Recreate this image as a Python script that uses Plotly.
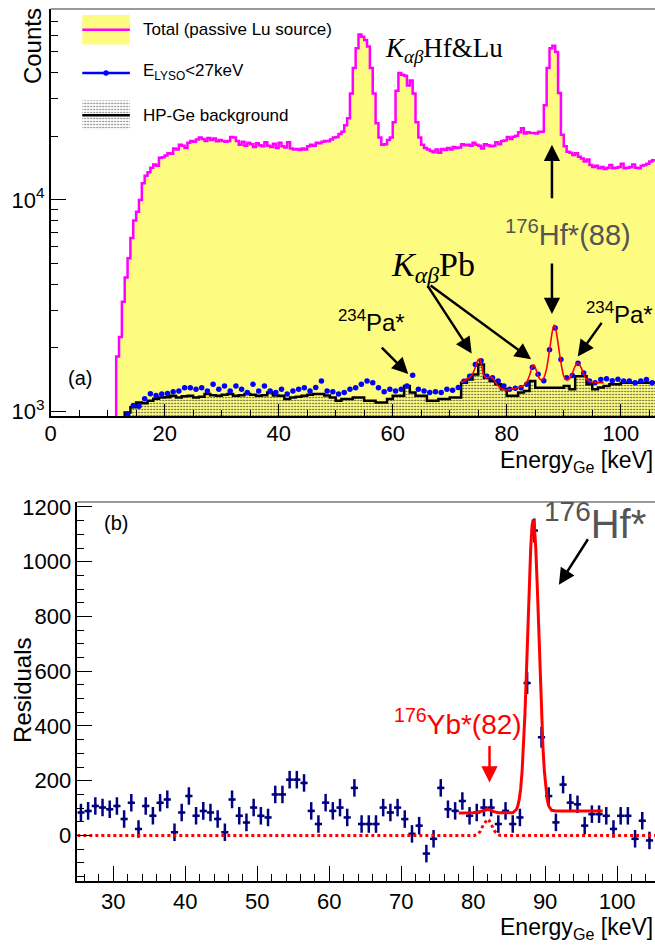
import numpy as np
import plotly.graph_objects as go

W, H = 655, 949
SANS = "Liberation Sans, Arial, sans-serif"
SERIF = "Liberation Serif, Times New Roman, serif"

# ---------------- panel (a): HP-Ge spectra ----------------
TOTAL_START, TOTAL_BIN = 11.5, 0.5          # keV
total_counts = [
    1820, 2250, 3300, 4300, 5300, 6600, 8000, 8800, 10000, 12000,
    13000, 13500, 14200, 14700, 14500, 15800, 15900, 16200, 16600, 16500,
    17500, 17300, 18200, 18000, 17600, 18600, 19000, 18800, 19300, 19700,
    19400, 19000, 19600, 19200, 19500, 18900, 19200, 19000, 18800, 19000,
    19800, 19700, 19000, 18200, 18800, 18000, 18600, 18300, 17800, 18500,
    18100, 17900, 18700, 18000, 17800, 18400, 17600, 18600, 17900, 17700,
    18700, 17500, 17300, 17400, 17200, 17500, 17300, 17900, 18200, 18000,
    18600, 18500, 18800, 19000, 18900, 19300, 19700, 19800, 20500, 21000,
    22500, 24300, 31800, 42000, 52000, 60400, 59000, 57000, 53000, 42000,
    31800, 23000, 19700, 18200, 18300, 19200, 19700, 23300, 32800, 39800,
    39000, 38600, 34700, 36600, 31800, 23300, 19700, 18200, 17600, 17300,
    17000, 16800, 17300, 16700, 17400, 17200, 17600, 17300, 17800, 17600,
    17700, 18300, 18100, 18200, 18000, 18600, 18200, 18000, 17500, 18300,
    18100, 17900, 18000, 18700, 18300, 19000, 19100, 19800, 19400, 19900,
    20100, 20900, 21800, 20600, 20900, 20700, 20700, 20600, 21000, 21000,
    28000, 42000, 52000, 53500, 50000, 32000, 20300, 17900, 16900, 16700,
    16300, 16600, 16000, 15700, 15200, 15500, 14600, 14300, 14500, 14100,
    14300, 14000, 14200, 14600, 14100, 14200, 14300, 14800, 14100, 14200,
    14300, 14700, 14200, 14100, 14500, 14600, 14800, 15200, 15400,
]

LYSO_START, LYSO_BIN = 13.0, 1.0
lyso_counts = [
    970, 1067, 1060, 1150, 1213, 1190, 1210, 1216, 1240, 1250,
    1297, 1295, 1275, 1297, 1252, 1345, 1275, 1321, 1252, 1321,
    1275, 1230, 1345, 1252, 1321, 1252, 1230, 1275, 1209, 1252,
    1275, 1297, 1252, 1300, 1393, 1252, 1240, 1209, 1230, 1275,
    1297, 1345, 1393, 1369, 1297, 1240, 1275, 1252, 1275, 1321,
    1486, 1275, 1252, 1230, 1240, 1230, 1275, 1260, 1300, 1390,
    1470, 1667, 1740, 1470, 1444, 1393, 1321, 1275, 1290, 1297,
    1345, 1620, 1500, 1400, 1960, 2480, 1760, 1444, 1480, 1690,
    1520, 1393, 1369, 1419, 1430, 1400, 1420, 1393, 1393, 1369,
    1393, 1419, 1369,
]

BKG_START, BKG_BIN = 13.0, 1.0
bkg_counts = [
    990, 1047, 1105, 1095, 1125, 1150, 1166, 1170, 1187, 1166,
    1180, 1187, 1166, 1175, 1209, 1195, 1187, 1200, 1209, 1187,
    1195, 1209, 1200, 1187, 1195, 1230, 1190, 1187, 1146, 1166,
    1175, 1187, 1200, 1209, 1209, 1190, 1166, 1125, 1146, 1146,
    1166, 1166, 1125, 1125, 1105, 1105, 1146, 1187, 1187, 1321,
    1230, 1187, 1187, 1125, 1125, 1146, 1146, 1166, 1166, 1369,
    1419, 1497, 1667, 1444, 1393, 1345, 1275, 1187, 1187, 1230,
    1250, 1393, 1297, 1297, 1297, 1297, 1297, 1321, 1275, 1470,
    1470, 1345, 1275, 1300, 1321, 1345, 1345, 1369, 1369, 1369,
    1369, 1369, 1369,
]

# fitted model over the E_LYSO<27keV spectrum
fit_a_energy = [72.0, 72.5, 73.0, 73.5, 74.0, 74.5, 75.0, 75.3, 75.6, 76.0,
                76.5, 77.0, 77.5, 78.0, 78.5, 79.0, 79.5, 80.0, 80.5, 81.0,
                81.5, 82.0, 82.5, 83.0, 83.5, 84.0, 84.5, 84.8, 85.2, 85.6,
                86.0, 86.5, 87.0, 87.5, 88.0, 88.3, 88.6, 89.0, 89.5, 90.0,
                90.5, 91.0, 91.5, 92.0, 92.5, 93.0, 93.5, 94.0, 94.5, 95.0,
                95.5, 96.0, 96.5, 97.0]
fit_a_counts = [1369, 1390, 1420, 1450, 1500, 1620, 1760, 1770, 1640, 1480,
                1440, 1460, 1440, 1380, 1320, 1285, 1270, 1265, 1270, 1275,
                1285, 1295, 1310, 1330, 1380, 1480, 1640, 1660, 1560, 1450,
                1410, 1440, 1600, 1950, 2400, 2560, 2450, 2100, 1700, 1470,
                1410, 1430, 1520, 1640, 1700, 1620, 1500, 1420, 1390, 1380,
                1375, 1370, 1368, 1366]

# ---------------- panel (b): residuals ----------------
RES_START, RES_BIN = 25.0, 1.0
res_values = [
    84, 90, 108, 102, 96, 108, 60, 120, 24, 108,
    72, 120, 132, 12, 84, 144, 72, 90, 84, 60,
    12, 132, 72, 48, 102, 72, 66, 150, 150, 204,
    204, 192, 90, 42, 120, 90, 102, 66, 174, 42,
    42, 42, 102, 84, 102, 60, 6, 36, -66, -12,
    174, 96, 90, 126, 72, 84, 102, 102, 42, 90,
    42, 66, 557, 1114, 359, 144, 48, 186, 120, 114,
    36, 78, 78, 72, 24, 72, 72, -12, 54, -18,
]
res_errors = [32] * 62 + [40, 44, 38] + [32] * 15

fit_b_energy = [78.0, 79.0, 80.0, 80.6, 81.2, 81.7, 82.0, 82.4, 82.9, 83.5,
                84.5, 85.5, 86.0, 86.2, 86.4, 86.6, 86.8, 87.0, 87.2, 87.4,
                87.6, 87.8, 88.0, 88.2, 88.35, 88.5, 88.7, 88.9, 89.1, 89.3,
                89.5, 89.7, 89.9, 90.1, 90.3, 90.5, 90.7, 90.9, 91.5, 93.0,
                95.0, 98.0]
fit_b_values = [82, 82, 83, 85, 89, 94, 95, 93, 87, 83,
                82, 83, 95, 108, 131, 170, 233, 323, 445, 593,
                758, 918, 1051, 1134, 1154, 1134, 1051, 918, 758, 593,
                445, 323, 233, 170, 131, 108, 97, 92, 90, 90,
                90, 90]

yb_energy = [25.0, 80.2, 80.6, 81.0, 81.4, 81.8, 82.0, 82.2, 82.6, 83.0, 83.4, 83.8, 105.3]
yb_values = [0, 0, 4, 16, 38, 56, 60, 56, 38, 16, 4, 0, 0]

# ---------------- colours ----------------
YELLOW = "#fdfb80"
MAGENTA = "#ff00ff"
BLUE = "#0000ff"
NAVY = "#000080"
RED = "#ff0000"
GREY_TXT = "#555555"


def step_xy(start, width, counts, floor=1.0):
    """Histogram outline for line_shape='hv', starting from below the axis."""
    counts = np.asarray(counts, dtype=float)
    edges = start + width * np.arange(len(counts) + 1)
    x = np.concatenate([[edges[0]], edges])
    y = np.concatenate([[floor], counts, [counts[-1]]])
    return x, y


def centres(start, width, n):
    return start + width * (np.arange(n) + 0.5)


STIPPLE = dict(shape=".", size=3, solidity=0.22, fgcolor="#3a3a3a", fillmode="replace")

fig = go.Figure()

# total spectrum: yellow fill with magenta outline
tx, ty = step_xy(TOTAL_START, TOTAL_BIN, total_counts)
fig.add_trace(go.Scatter(x=tx, y=ty, mode="lines", line=dict(color=MAGENTA, width=2.5, shape="hv"),
                         fill="tozeroy", fillcolor=YELLOW, xaxis="x", yaxis="y"))

# HP-Ge background: stippled fill, black outline
bx, by = step_xy(BKG_START, BKG_BIN, bkg_counts)
fig.add_trace(go.Scatter(x=bx, y=by, mode="lines", line=dict(color="black", width=2.5, shape="hv"),
                         fill="tozeroy", fillcolor=YELLOW,
                         fillpattern=dict(STIPPLE, bgcolor=YELLOW),
                         xaxis="x", yaxis="y"))

# E_LYSO < 27 keV selection
fig.add_trace(go.Scatter(x=centres(LYSO_START, LYSO_BIN, len(lyso_counts)), y=lyso_counts, mode="markers",
                         marker=dict(color=BLUE, size=5.5), xaxis="x", yaxis="y"))

# fit
fig.add_trace(go.Scatter(x=fit_a_energy, y=fit_a_counts, mode="lines",
                         line=dict(color=RED, width=1.6, shape="spline", smoothing=0.6), xaxis="x", yaxis="y"))

# residuals with error bars
rx = centres(RES_START, RES_BIN, len(res_values))
fig.add_trace(go.Scatter(x=rx, y=res_values, mode="markers",
                         marker=dict(color=NAVY, size=3, symbol="square"),
                         error_y=dict(type="data", array=res_errors, color=NAVY, thickness=2.5, width=0),
                         error_x=dict(type="constant", value=RES_BIN / 2, color=NAVY, thickness=2.5, width=0),
                         xaxis="x2", yaxis="y2"))
fig.add_trace(go.Scatter(x=yb_energy, y=yb_values, mode="lines",
                         line=dict(color=RED, width=3, dash="dot"), xaxis="x2", yaxis="y2"))
fig.add_trace(go.Scatter(x=fit_b_energy, y=fit_b_values, mode="lines",
                         line=dict(color=RED, width=3), xaxis="x2", yaxis="y2"))

# ---------------- legend drawn in pixel space over panel (a) ----------------
LEG = dict(xaxis="x3", yaxis="y3", hoverinfo="skip")
fig.add_trace(go.Scatter(x=[77, 125, 125, 77, 77], y=[8, 8, 38, 38, 8], mode="lines", fill="toself",
                         fillcolor=YELLOW, line=dict(width=0), **LEG))
fig.add_trace(go.Scatter(x=[77, 125], y=[23, 23], mode="lines", line=dict(color=MAGENTA, width=2.5), **LEG))
fig.add_trace(go.Scatter(x=[77, 125], y=[67, 67], mode="lines", line=dict(color=BLUE, width=2.5), **LEG))
fig.add_trace(go.Scatter(x=[101], y=[67], mode="markers", marker=dict(color=BLUE, size=5.5), **LEG))
fig.add_trace(go.Scatter(x=[77, 125, 125, 77, 77], y=[95, 95, 125, 125, 95], mode="lines", fill="toself",
                         fillcolor="white", line=dict(width=0),
                         fillpattern=dict(STIPPLE, bgcolor="white", fgcolor="#666666"),
                         **LEG))
fig.add_trace(go.Scatter(x=[77, 125], y=[110, 110], mode="lines", line=dict(color="black", width=2.5), **LEG))


def pxx(x):
    return x / W


def pyy(y):
    return 1 - y / H


def label(text, x, y, size, color="black", family=SANS, xanchor="center", yanchor="middle", angle=0):
    return dict(text=text, x=pxx(x), y=pyy(y), xref="paper", yref="paper", showarrow=False,
                font=dict(size=size, color=color, family=family), xanchor=xanchor, yanchor=yanchor,
                textangle=angle)


def arrow(tip, tail, color="black", width=2.5):
    return dict(text="", x=pxx(tip[0]), y=pyy(tip[1]), xref="paper", yref="paper",
                ax=tail[0] - tip[0], ay=tail[1] - tip[1], showarrow=True, arrowhead=2,
                arrowsize=1.3, arrowwidth=width, arrowcolor=color, standoff=0)


annotations = [
    # legend texts
    label("Total (passive Lu source)", 136, 23, 17, xanchor="left"),
    label("E<sub>LYSO</sub><27keV", 136, 66, 17, xanchor="left"),
    label("HP-Ge background", 136, 110, 17, xanchor="left"),
    # axis titles
    label("Counts", 27, 40, 24, angle=-90),
    label("Energy<sub>Ge</sub> [keV]", 655, 462, 23, xanchor="right"),
    label("Residuals", 16, 694, 24, angle=-90),
    label("Energy<sub>Ge</sub> [keV]", 655, 936, 23, xanchor="right"),
    # panel tags
    label("(a)", 75, 377, 20),
    label("(b)", 111, 524, 20),
    # panel (a) peak labels
    label("<i>K</i><sub><i>αβ</i></sub>Hf&amp;Lu", 442, 44, 27, family=SERIF),
    label("<i>K</i><sub><i>αβ</i></sub>Pb", 431, 264, 34, family=SERIF),
    label("<sup>176</sup>Hf*(88)", 567, 230, 29, color=GREY_TXT),
    label("<sup>234</sup>Pa*", 369, 319, 24),
    label("<sup>234</sup>Pa*", 619, 311, 24),
    arrow((551, 140), (551, 195)),
    arrow((551, 312), (551, 260)),
    arrow((406, 373), (378, 345)),
    arrow((577, 355), (602, 320)),
    arrow((470, 352), (425, 283)),
    arrow((530, 358), (428, 283)),
    # panel (b) labels
    label("<sup>176</sup>Hf*", 594, 522, 40, color=GREY_TXT),
    arrow((558, 587), (588, 540)),
    label("<sup>176</sup>Yb*(82)", 456, 726, 28, color=RED),
    arrow((488, 788), (488, 750), color=RED),
]

tickfont = dict(family=SANS, size=22, color="black")
axis_common = dict(showgrid=False, zeroline=False, showline=True, linecolor="black", linewidth=1.5,
                   ticks="inside", tickcolor="black", tickwidth=1.2, tickfont=tickfont)

minor_log = [2000, 3000, 4000, 5000, 6000, 7000, 8000, 9000,
             20000, 30000, 40000, 50000, 60000, 70000]

fig.update_layout(
    width=W, height=H,
    margin=dict(l=0, r=0, t=0, b=0),
    paper_bgcolor="white", plot_bgcolor="rgba(0,0,0,0)",
    showlegend=False,
    xaxis=dict(domain=[45 / W, 1], range=[0, 106], anchor="y", tickmode="linear", tick0=0, dtick=20,
               ticklen=12, ticklabelstandoff=-4,
               minor=dict(dtick=5, ticklen=6, ticks="inside", tickcolor="black"),
               **{**axis_common, "linewidth": 2}),
    yaxis=dict(domain=[pyy(416), pyy(2)], type="log", range=[2.977, 4.902], anchor="x",
               tickmode="array", tickvals=[1000, 10000], ticktext=["10<sup>3</sup>", "10<sup>4</sup>"],
               ticklen=16, minor=dict(tickmode="array", tickvals=minor_log, ticklen=8, ticks="inside",
                                      tickcolor="black"),
               **axis_common),
    xaxis2=dict(domain=[72 / W, 1], range=[25, 105.27], anchor="y2", tickmode="linear", tick0=0, dtick=10,
                ticklen=15, minor=dict(dtick=2, ticklen=7, ticks="inside", tickcolor="black"), **axis_common),
    yaxis2=dict(domain=[pyy(888), pyy(503)], range=[-166, 1218], anchor="x2", tickmode="linear", tick0=0,
                dtick=200, ticklen=15, minor=dict(dtick=50, ticklen=7, ticks="inside", tickcolor="black"),
                **axis_common),
    xaxis3=dict(overlaying="x", range=[45, 655], visible=False, anchor="y3"),
    yaxis3=dict(overlaying="y", range=[416, 2], visible=False, anchor="x3"),
    annotations=annotations,
    shapes=[
        dict(type="line", xref="paper", yref="paper", x0=pxx(45), x1=1, y0=pyy(2), y1=pyy(2),
             line=dict(color="#777777", width=1.5)),
        dict(type="line", xref="paper", yref="paper", x0=pxx(72), x1=1, y0=pyy(503), y1=pyy(503),
             line=dict(color="#777777", width=1.5)),
    ],
)

fig.write_html("out.html")
